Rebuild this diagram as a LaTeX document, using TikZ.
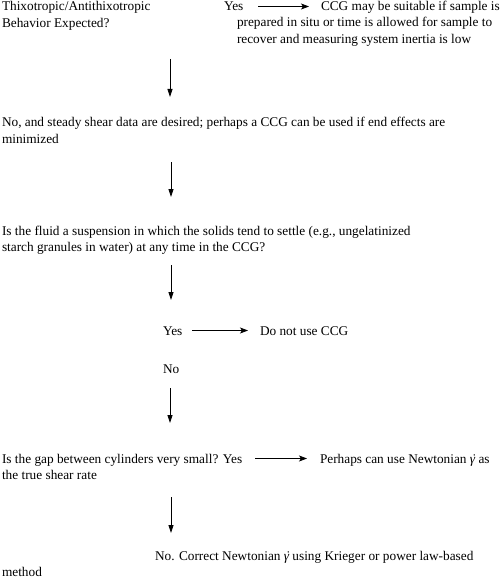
\documentclass[tikz,border=0pt]{standalone}
\usepackage{fontspec}
\setmainfont{Liberation Serif}
\usetikzlibrary{arrows.meta}
\newcommand{\txsize}{\fontsize{13.3bp}{16.3bp}\selectfont}
\newcommand{\gdot}{\textit{\ooalign{γ\cr\hidewidth\kern0.15em ˙\hidewidth\cr}}}
\begin{document}
\begin{tikzpicture}[x=1bp,y=-1bp,
  tx/.style={anchor=north west, inner sep=0pt, outer sep=0pt, align=left, font=\txsize, yshift=0.7*16.3bp},
  varr/.style={line width=0.8bp, -{Triangle[length=8bp,width=5bp]}},
  harr/.style={line width=0.8bp, -{Stealth[length=8bp,width=6bp,inset=2bp]}}]
\useasboundingbox (0,0) rectangle (503,579);
% first question
\node[tx] (q1) at (2,11) {\strut Thixotropic/Antithixotropic\\Behavior Expected?};
\node[tx] (y1) at (224,11) {\strut Yes};
\node[tx] (c1) at (321,11) {\strut CCG may be suitable if sample is};
\node[tx] (c1b) at (237,27) {\strut prepared in situ or time is allowed for sample to\\recover and measuring system inertia is low};
\draw[harr] ([xshift=15bp,yshift=4.5bp]y1.base east) -- ([xshift=-12bp,yshift=4.5bp]c1.base west);
% arrow 1
\coordinate (v1s) at (170,59);
\coordinate (v1e) at (170,97);
\draw[varr] (v1s) -- (v1e);
\node[tx] (n1) at (2,127) {\strut No, and steady shear data are desired; perhaps a CCG can be used if end effects are\\minimized};
% arrow 2
\coordinate (v2s) at (171,162);
\coordinate (v2e) at (171,197);
\draw[varr] (v2s) -- (v2e);
\node[tx] (q2) at (2,235) {\strut Is the fluid a suspension in which the solids tend to settle (e.g., ungelatinized\\starch granules in water) at any time in the CCG?};
% arrow 3
\coordinate (v3s) at (171,265);
\coordinate (v3e) at (171,300);
\draw[varr] (v3s) -- (v3e);
\node[tx] (y2) at (163,335) {\strut Yes};
\node[tx] (d2) at (260,335) {\strut Do not use CCG};
\draw[harr] ([xshift=10bp,yshift=4.5bp]y2.base east) -- ([xshift=-12bp,yshift=4.5bp]d2.base west);
\node[tx] (no2) at (163,373) {\strut No};
% arrow 4
\coordinate (v4s) at (170,388);
\coordinate (v4e) at (170,423);
\draw[varr] (v4s) -- (v4e);
\node[tx] (q3) at (2,463) {\strut Is the gap between cylinders very small? Yes};
\node[tx] (p3) at (320,463) {\strut Perhaps can use Newtonian \gdot{} as};
\node[tx] (p3b) at (2,479) {\strut the true shear rate};
\draw[harr] ([xshift=13bp,yshift=4.5bp]q3.base east) -- ([xshift=-13bp,yshift=4.5bp]p3.base west);
% arrow 5
\coordinate (v5s) at (171,497);
\coordinate (v5e) at (171,533);
\draw[varr] (v5s) -- (v5e);
\node[tx] (f) at (155,560) {\strut No. Correct Newtonian \gdot{} using Krieger or power law-based};
\node[tx] (fb) at (2,576) {\strut method};
\end{tikzpicture}
\end{document}
